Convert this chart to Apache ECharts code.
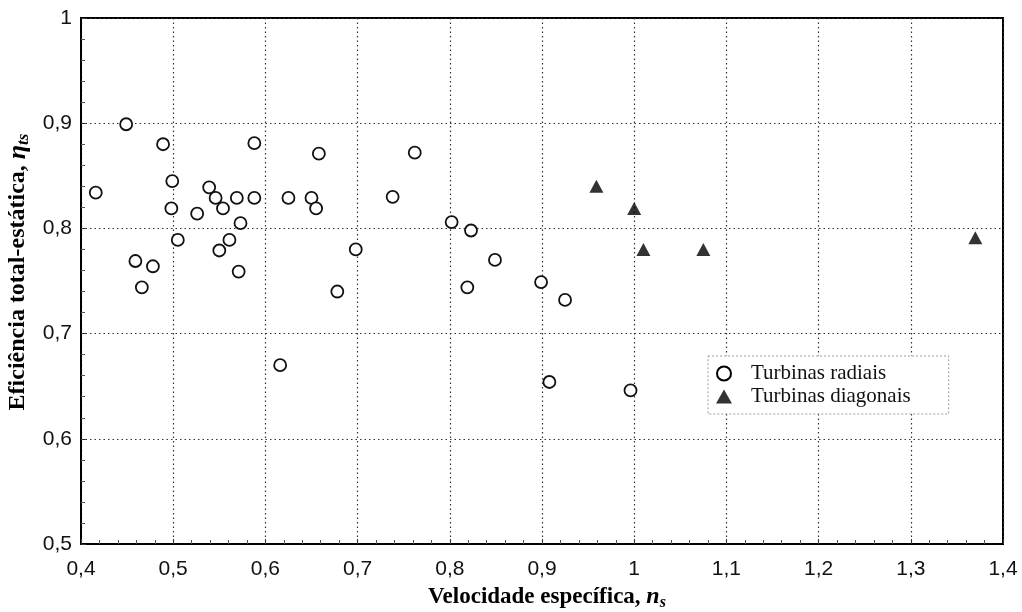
<!DOCTYPE html>
<html>
<head>
<meta charset="utf-8">
<script src="https://cdn.jsdelivr.net/npm/echarts@6/dist/echarts.min.js"></script>
<style>
  html, body { margin: 0; padding: 0; background: #fff; }
  #chart { width: 1022px; height: 612px; }
</style>
</head>
<body>
<div id="chart"></div>
<script>
// Radial turbines: specific speed and total-to-static efficiency
const radialNs = [0.416, 0.449, 0.459, 0.466, 0.478, 0.489, 0.499, 0.498, 0.505, 0.526,
                  0.539, 0.546, 0.554, 0.550, 0.561, 0.569, 0.571, 0.573, 0.588, 0.588,
                  0.616, 0.625, 0.650, 0.655, 0.658, 0.678, 0.698, 0.738, 0.762, 0.802,
                  0.819, 0.823, 0.849, 0.899, 0.908, 0.925, 0.996];
const radialEta = [0.834, 0.899, 0.769, 0.744, 0.764, 0.880, 0.845, 0.819, 0.789, 0.814,
                   0.839, 0.829, 0.819, 0.779, 0.789, 0.829, 0.759, 0.805, 0.829, 0.881,
                   0.670, 0.829, 0.829, 0.819, 0.871, 0.740, 0.780, 0.830, 0.872, 0.806,
                   0.744, 0.798, 0.770, 0.749, 0.654, 0.732, 0.646];

// Mixed-flow (diagonal) turbines
const diagonalNs = [0.959, 1.000, 1.010, 1.075, 1.370];
const diagonalEta = [0.840, 0.819, 0.780, 0.780, 0.791];

const seriesNames = ['Turbinas radiais', 'Turbinas diagonais'];

const xMin = 0.4, xMax = 1.4, xStep = 0.1;
const yMin = 0.5, yMax = 1.0, yStep = 0.1;

function pairs(xs, ys) { return xs.map((x, i) => [x, ys[i]]); }
function comma(v) { return String(+v.toFixed(1)).replace('.', ','); }

const chart = echarts.init(document.getElementById('chart'), null, { renderer: 'canvas' });

const serif = 'Liberation Serif, Times New Roman, serif';

const axisCommon = {
  axisLine: { show: true, onZero: false, lineStyle: { color: '#000', width: 2 } },
  axisTick: { show: true, inside: true, length: 5, lineStyle: { color: '#333', width: 1 } },
  minorTick: { show: true, splitNumber: 5, length: 4, lineStyle: { color: '#555', width: 1 } },
  splitLine: { show: true, lineStyle: { color: '#333', type: [1.5, 3], width: 1.2 } },
  axisLabel: {
    fontFamily: 'Liberation Sans, Arial, sans-serif',
    fontSize: 21,
    color: '#111',
    formatter: comma
  }
};

chart.setOption({
  backgroundColor: '#fff',
  animation: false,
  grid: {
    left: 81, right: 19, top: 18, bottom: 68,
    show: true, borderColor: '#000', borderWidth: 2, backgroundColor: 'transparent'
  },
  xAxis: Object.assign({}, axisCommon, {
    type: 'value', min: xMin, max: xMax, interval: xStep,
    axisLabel: Object.assign({}, axisCommon.axisLabel, { margin: 15 })
  }),
  yAxis: Object.assign({}, axisCommon, {
    type: 'value', min: yMin, max: yMax, interval: yStep,
    axisLabel: Object.assign({}, axisCommon.axisLabel, { margin: 9 })
  }),
  legend: {
    orient: 'vertical',
    left: 708, top: 356,
    padding: [7, 38, 7, 8],
    itemGap: 2,
    itemWidth: 16, itemHeight: 14,
    borderColor: '#999', borderWidth: 1, borderType: [2, 2],
    backgroundColor: '#fff',
    textStyle: { fontFamily: serif, fontSize: 21, color: '#111', padding: [0, 0, 0, 14] },
    data: [
      { name: seriesNames[0], icon: 'circle', itemStyle: { color: '#fff', borderColor: '#000', borderWidth: 2 } },
      { name: seriesNames[1], icon: 'triangle', itemStyle: { color: '#000' } }
    ]
  },
  graphic: [
    {
      type: 'text',
      x: 18, y: 272,
      rotation: Math.PI / 2,
      style: {
        text: 'Eficiência total-estática, {e|η}{s|ts}',
        fontFamily: serif,
        fontWeight: 'bold',
        fontSize: 24,
        fill: '#000',
        align: 'center',
        verticalAlign: 'middle',
        rich: {
          e: { fontFamily: serif, fontStyle: 'italic', fontWeight: 'bold', fontSize: 26, lineHeight: 28, verticalAlign: 'middle' },
          s: { fontFamily: serif, fontStyle: 'italic', fontWeight: 'bold', fontSize: 17, lineHeight: 18, verticalAlign: 'bottom' }
        }
      }
    },
    {
      type: 'text',
      x: 547, y: 597,
      style: {
        text: 'Velocidade específica, {n|n}{s|s}',
        fontFamily: serif,
        fontWeight: 'bold',
        fontSize: 23,
        fill: '#000',
        align: 'center',
        verticalAlign: 'middle',
        rich: {
          n: { fontFamily: serif, fontStyle: 'italic', fontWeight: 'bold', fontSize: 24, lineHeight: 28, verticalAlign: 'middle' },
          s: { fontFamily: serif, fontStyle: 'italic', fontWeight: 'bold', fontSize: 16, lineHeight: 18, verticalAlign: 'bottom' }
        }
      }
    }
  ],
  series: [
    {
      name: seriesNames[0],
      type: 'scatter',
      symbol: 'circle',
      symbolSize: 12,
      itemStyle: { color: '#fff', borderColor: '#111', borderWidth: 1.8, opacity: 1 },
      data: pairs(radialNs, radialEta),
      z: 3
    },
    {
      name: seriesNames[1],
      type: 'scatter',
      symbol: 'triangle',
      symbolSize: [14, 13],
      itemStyle: { color: '#000' },
      data: pairs(diagonalNs, diagonalEta),
      z: 3
    }
  ]
});
</script>
</body>
</html>
